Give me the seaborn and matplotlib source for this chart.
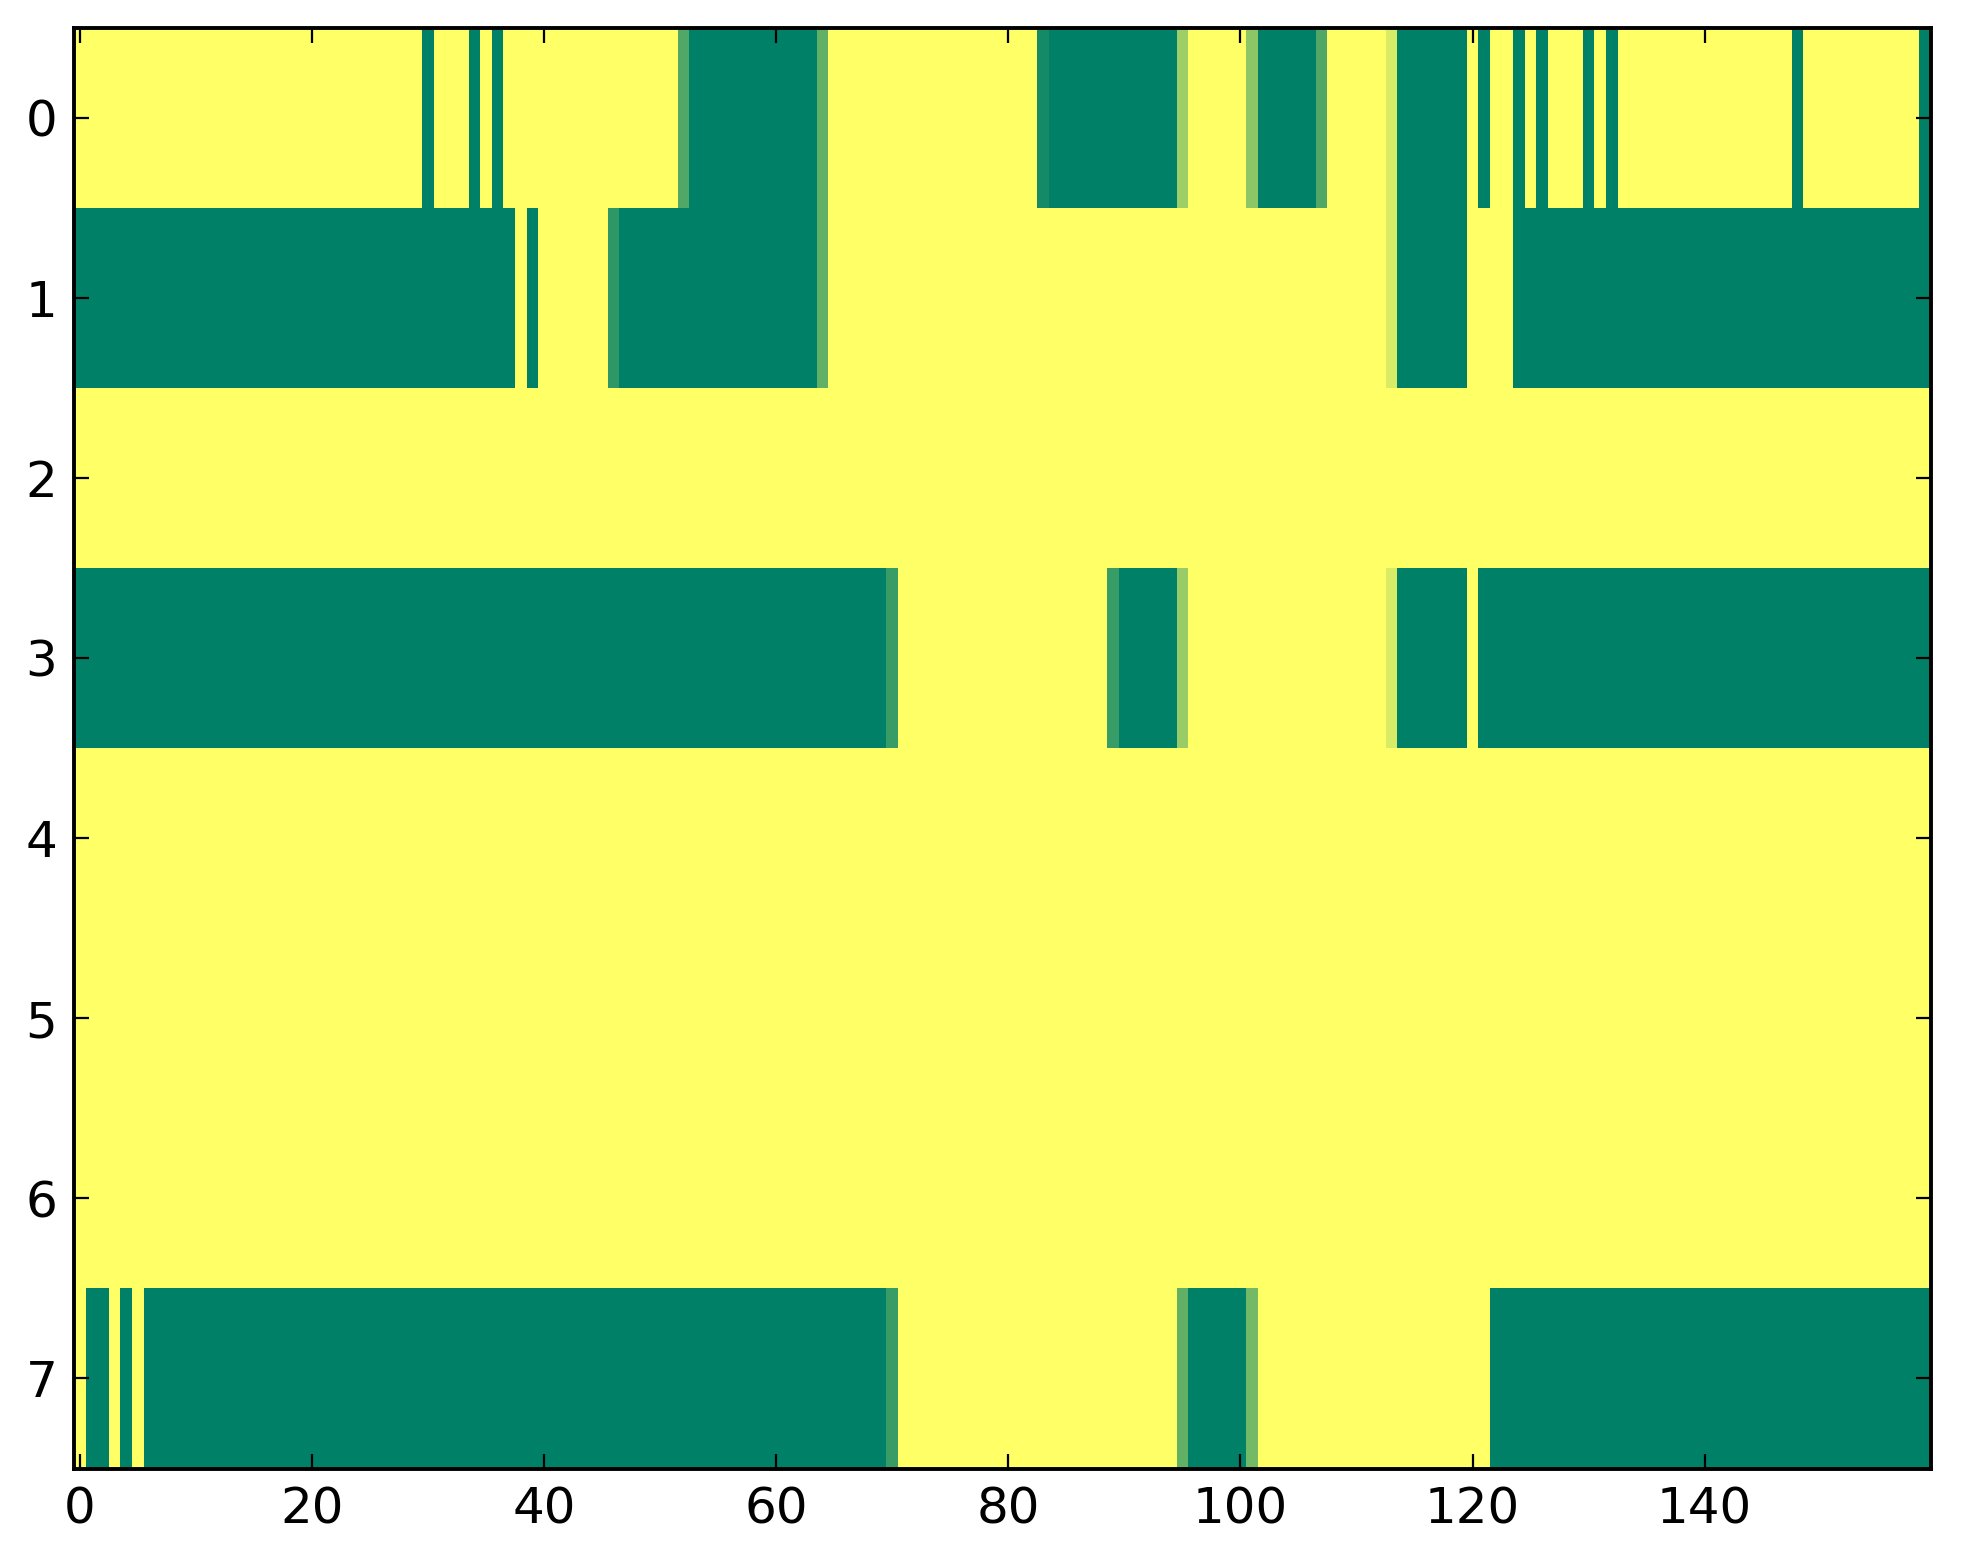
import numpy as np
import pandas as pd
import seaborn as sns
import matplotlib
matplotlib.use('Agg')
import matplotlib.pyplot as plt

n_cols = 160
n_rows = 8

# columns that are fully "0" (green) per row, as (start, end) inclusive spans
row0_green = [(30, 30), (34, 34), (36, 36), (53, 63), (84, 94), (102, 106),
              (114, 119), (121, 121), (124, 124), (126, 126), (130, 130),
              (132, 132), (148, 148), (159, 159)]
row1_green = [(0, 37), (39, 39), (47, 63), (114, 119), (124, 159)]
row3_green = [(0, 69), (90, 94), (114, 119), (121, 159)]
row7_green = [(1, 2), (4, 4), (6, 69), (96, 100), (122, 159)]

# in-between values at the edges of the green runs
row0_mid = {52: 0.32, 64: 0.38, 83: 0.08, 95: 0.62, 101: 0.55, 107: 0.32, 113: 0.85}
row1_mid = {46: 0.18, 64: 0.38, 113: 0.85}
row3_mid = {70: 0.22, 89: 0.22, 95: 0.60, 113: 0.85}
row7_mid = {70: 0.22, 95: 0.38, 101: 0.45}

green_runs = {0: row0_green, 1: row1_green, 3: row3_green, 7: row7_green}
mid_values = {0: row0_mid, 1: row1_mid, 3: row3_mid, 7: row7_mid}

x_ticks = [0, 20, 40, 60, 80, 100, 120, 140]
y_ticks = list(range(n_rows))

grid = np.ones((n_rows, n_cols))
for r, spans in green_runs.items():
    for a, b in spans:
        grid[r, a:b + 1] = 0.0
    for c, v in mid_values[r].items():
        grid[r, c] = v
df = pd.DataFrame(grid)

sns.set_style('ticks')
plt.rcParams['font.family'] = ['DejaVu Sans']
plt.rcParams['axes.axisbelow'] = False

fig = plt.figure(figsize=(1963 / 200, 1564 / 200), dpi=200)
ax = fig.add_axes([74 / 1963, 1 - 1468.5 / 1564, (1931 - 74) / 1963, (1468.5 - 27.5) / 1564])
sns.heatmap(df, cmap='summer', vmin=0, vmax=1, cbar=False, ax=ax,
            xticklabels=False, yticklabels=False)
ax.set_axisbelow(False)

ax.set_xticks([t + 0.5 for t in x_ticks])
ax.set_xticklabels([str(t) for t in x_ticks])
ax.set_yticks([t + 0.5 for t in y_ticks])
ax.set_yticklabels([str(t) for t in y_ticks], rotation=0)
ax.set_xlabel('')
ax.set_ylabel('')

for s in ax.spines.values():
    s.set_visible(True)
    s.set_color('black')
    s.set_linewidth(1.4)

ax.tick_params(axis='both', which='major', direction='in', length=5.5, width=0.8,
               color='black', labelsize=18, labelcolor='black',
               top=True, right=True, bottom=True, left=True, pad=6)

fig.savefig('out.png', dpi=200)
